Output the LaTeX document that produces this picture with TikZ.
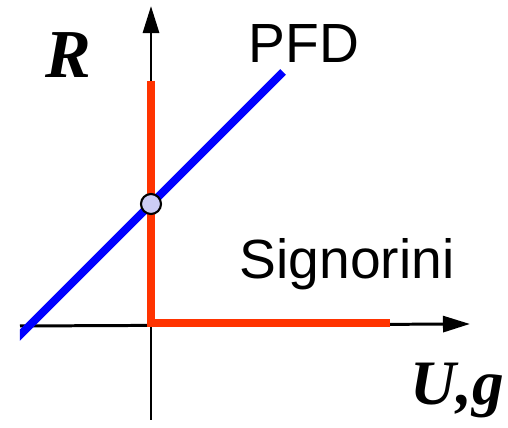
\documentclass[tikz,border=0pt]{standalone}
\usepackage{fontspec}
\setmainfont{Liberation Serif}
\setsansfont{Liberation Sans}
\usepackage{tikz}
\usetikzlibrary{arrows.meta}

\definecolor{pfdblue}{HTML}{0000FF}
\definecolor{sigred}{HTML}{FF3300}
\definecolor{ptfill}{HTML}{CCCCF5}

\tikzset{
  axis/.style={line width=0.85pt, -{Triangle[length=2.7mm, width=1.6mm]}},
  law/.style={line width=2.3pt},
  lbl/.style={anchor=base west, inner sep=0pt},
  varlbl/.style={lbl, font=\fontsize{19.5}{22}\selectfont\bfseries\itshape},
  namelbl/.style={lbl, font=\fontsize{15.7}{18}\selectfont\sffamily}
}

\begin{document}
\begin{tikzpicture}[x=0.01cm, y=-0.01cm]
	\useasboundingbox (0,0) rectangle (508,428);
	% axes
	\coordinate (O) at (151,325);
	\coordinate (ybot) at (151,420);
	\coordinate (ytop) at (151,6);
	\coordinate (xleft) at (20,326);
	\coordinate (xright) at (470,324);
	\draw[axis] (ybot) -- (ytop);
	\draw[axis] (xleft) -- (xright);
	% Signorini graph
	\coordinate (stop) at (151,81);
	\coordinate (send) at (390,323);
	\draw[law, sigred] (stop) -- (151,323) -- (send);
	% PFD line, clipped at the left edge
	\begin{scope}
		\clip (20,0) rectangle (508,428);
		\coordinate (pstart) at (14,341);
		\coordinate (pend) at (283,72);
		\draw[law, pfdblue] (pstart) -- (pend);
	\end{scope}
	\node[circle, draw=black, line width=0.6pt, fill=ptfill, minimum size=0.2cm, inner sep=0pt] (sol) at (151,204) {};
	% labels
	\node[varlbl] (rlab) at (45,78) {R};
	\node[varlbl, font=\fontsize{18}{20}\selectfont\bfseries\itshape] (uglab) at (410,405) {U,g};
	\node[namelbl] (pfdlab) at (248,63) {PFD};
	\node[namelbl] (siglab) at (239,279) {Signorini};
\end{tikzpicture}
\end{document}
